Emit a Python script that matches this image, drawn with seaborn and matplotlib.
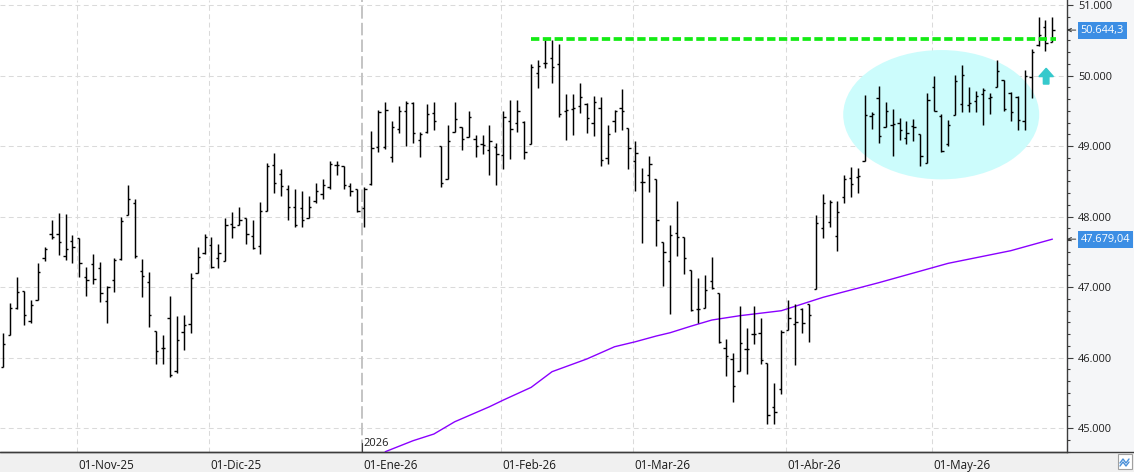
import numpy as np
import pandas as pd
import matplotlib
matplotlib.use("Agg")
import matplotlib.pyplot as plt
import seaborn as sns
from matplotlib.patches import Ellipse, Rectangle, FancyArrow
from matplotlib.lines import Line2D
from matplotlib.ticker import MultipleLocator

# ---------------- data ----------------
opens = [45872, 46321, 46704, 46950, 46520, 46818, 47418, 47759, 47759, 47442,
         47655, 47702, 47149, 47324, 47267, 46803, 47106, 47395, 48028, 48189,
         47234, 47078, 46382, 46141, 46567, 45810, 46359, 46482, 47205, 47489,
         47593, 47418, 47376, 47891, 47877, 47972, 47730, 47579, 48085, 48728,
         48601, 48388, 48128, 48114, 47986, 48213, 48326, 48421, 48728, 48710,
         48435, 48388, 48114, 48467, 48981, 48981, 48839, 49238, 49500, 49610,
         49086, 49200, 49467, 49000, 48539, 49205, 49267, 49134, 49100, 49024,
         48943, 48981, 48872, 49357, 49324, 49338, 49024, 50040, 50182, 50243,
         50159, 49491, 49524, 49571, 49600, 49324, 49538, 48824, 49357, 49538,
         49252, 48786, 48491, 48590, 48534, 47639, 47366, 47766, 47709, 47248,
         46692, 46706, 47092, 46918, 46141, 45986, 45811, 46117, 46329, 46353,
         45920, 45293, 45552, 46396, 46480, 46692, 46763, 46975, 47837, 47924,
         47730, 48278, 48548, 48562, 48784, 49432, 49683, 49272, 49305, 49328,
         49115, 49281, 49172, 48761, 49839, 49423, 49035, 49437, 49598, 49588,
         49636, 49740, 49683, 49834, 49943, 49754, 49697, 49352, 49974, 50433,
         50692, 50480]
highs = [46346, 46770, 47139, 46950, 46813, 47338, 47574, 47948, 48047, 48033,
         47735, 47702, 47281, 47466, 47357, 47016, 47418, 47995, 48445, 48246,
         47395, 47210, 46382, 46316, 46870, 46590, 46605, 47196, 47574, 47759,
         47707, 47607, 47972, 48057, 48142, 47976, 47957, 48203, 48766, 48899,
         48681, 48454, 48397, 48369, 48298, 48478, 48539, 48785, 48785, 48710,
         48482, 48397, 48412, 49215, 49514, 49624, 49357, 49572, 49643, 49619,
         49200, 49595, 49619, 49000, 49300, 49619, 49276, 49491, 49157, 49157,
         49300, 49038, 49491, 49657, 49657, 49348, 50163, 50220, 50504, 50504,
         50447, 49743, 49743, 49895, 49610, 49714, 49695, 49300, 49514, 49810,
         49252, 49076, 48689, 48859, 48534, 47639, 47884, 48223, 47709, 47248,
         47135, 47177, 47432, 46918, 46259, 46070, 46730, 46414, 46730, 46556,
         45920, 45632, 46386, 46810, 46763, 46706, 46763, 48025, 48322, 48240,
         48226, 48595, 48704, 48690, 49730, 49480, 49858, 49626, 49527, 49399,
         49352, 49385, 49172, 49754, 50000, 49447, 49366, 50014, 50142, 49839,
         49778, 49825, 49754, 50213, 49943, 49763, 49707, 50076, 50372, 50825,
         50787, 50825]
lows = [45872, 46321, 46695, 46463, 46491, 46818, 47371, 47688, 47451, 47385,
        47338, 47144, 46874, 47040, 46789, 46491, 46931, 47390, 48028, 47418,
        46860, 46439, 45909, 45909, 45730, 45786, 46108, 46349, 47201, 47475,
        47272, 47272, 47376, 47697, 47877, 47612, 47541, 47470, 48076, 48336,
        48284, 47953, 47858, 47853, 47981, 48194, 48246, 48397, 48591, 48388,
        48293, 48057, 47853, 48453, 48919, 48953, 48777, 49191, 49005, 49048,
        48848, 49191, 49229, 48420, 48539, 49195, 48943, 49134, 48848, 48886,
        48586, 48443, 48667, 48820, 49195, 48820, 49024, 49827, 50111, 49898,
        49416, 49081, 49157, 49467, 49191, 49148, 48719, 48743, 49205, 49229,
        48667, 48362, 47620, 48341, 47578, 47012, 46621, 47436, 47182, 46664,
        46485, 46706, 46975, 46202, 45741, 45373, 45811, 45764, 46188, 45915,
        45058, 45058, 45482, 46396, 45896, 46353, 46226, 46975, 47691, 47848,
        47507, 48193, 48278, 48335, 48784, 49243, 49045, 49272, 48865, 49092,
        49035, 49068, 48713, 48761, 49494, 48912, 49007, 49437, 49480, 49480,
        49480, 49305, 49447, 49834, 49494, 49352, 49234, 49234, 49685, 50423,
        50352, 50480]
closes = [46198, 46709, 46931, 46600, 46742, 47215, 47546, 47716, 47645, 47536,
          47574, 47347, 47097, 47111, 46922, 47002, 47380, 47934, 48255, 47442,
          47153, 46600, 46099, 46141, 45749, 46255, 46458, 47125, 47432, 47716,
          47291, 47489, 47886, 47858, 47957, 47745, 47555, 48076, 48714, 48473,
          48426, 48128, 47882, 47957, 48142, 48359, 48449, 48738, 48728, 48445,
          48369, 48076, 48393, 48967, 49476, 49514, 49267, 49500, 49605, 49181,
          49171, 49448, 49357, 48477, 49076, 49386, 49095, 49410, 49000, 49014,
          49071, 48881, 49410, 49238, 49500, 48910, 50116, 50135, 50182, 50116,
          49450, 49514, 49538, 49695, 49395, 49624, 48800, 49171, 49491, 49491,
          48967, 48895, 48491, 48741, 47950, 47497, 47742, 47709, 47417, 46673,
          46692, 46951, 46989, 46221, 46023, 45590, 46212, 46127, 46329, 45967,
          45185, 45223, 46362, 46565, 46504, 46485, 46598, 47907, 48190, 48209,
          48060, 48534, 48467, 48572, 49442, 49447, 49149, 49494, 49319, 49234,
          49186, 49272, 48865, 49659, 49503, 48926, 49305, 49920, 50014, 49603,
          49707, 49801, 49693, 50071, 49518, 49484, 49376, 50000, 50330, 50574,
          50456, 50644.3]

month_labels = ["01-Nov-25", "01-Dic-25", "01-Ene-26", "01-Feb-26",
                "01-Mar-26", "01-Abr-26", "01-May-26"]
month_first_bar = [11, 30, 52, 72, 91, 113, 134]
year_label = "2026"

ma_idx = [55, 59, 62, 65, 70, 72, 76, 79, 84, 88, 91, 94, 96, 99, 102, 106,
          112, 118, 126, 136, 145, 151]
ma_vals = [44664, 44820, 44915, 45089, 45302, 45397, 45577, 45799, 45979,
           46153, 46224, 46305, 46352, 46445, 46532, 46593, 46664, 46854,
           47061, 47336, 47515, 47679.04]

resistance = 50513
resistance_from, resistance_to = 76, 151.5
last_close = closes[-1]
last_ma = ma_vals[-1]

# ---------------- style ----------------
sns.set_style("white")
plt.rcParams["font.family"] = ["Open Sans", "DejaVu Sans"]
plt.rcParams["lines.scale_dashes"] = False

W, H = 1134, 472
fig = plt.figure(figsize=(W / 100, H / 100), dpi=100)
fig.patch.set_facecolor("white")
fig.patches.append(Rectangle((1067 / W, 20 / H), (W - 1067) / W, (H - 20) / H,
                             transform=fig.transFigure, facecolor="#f5f6f8",
                             edgecolor="none", zorder=-5))
fig.patches.append(Rectangle((0, 0), 1, 20 / H, transform=fig.transFigure,
                             facecolor="#f0f0f0", edgecolor="none", zorder=-5))

ax = fig.add_axes([0, 20 / H, 1067 / W, 452 / H])
ax.set_facecolor("white")

grid_kw = dict(color="#dadada", lw=0.75, linestyle=(0, (3.5, 2.5)), zorder=1)
for v in range(45000, 51001, 1000):
    ax.axhline(v, **grid_kw)
month_pos = [b - 0.35 for b in month_first_bar]
for lab, p in zip(month_labels, month_pos):
    if lab == "01-Ene-26":
        ax.axvline(p, color="#c4c4c4", lw=1.4, linestyle=(0, (9, 3)), zorder=1)
    else:
        ax.axvline(p, **grid_kw)

# highlight ellipse
ax.add_patch(Ellipse((135.0, 49444), width=28.2, height=1834,
                     facecolor="#ccfcfc", edgecolor="none", zorder=2))

# OHLC bars
x = np.arange(len(opens))
ax.vlines(x, lows, highs, color="black", lw=1.05, zorder=4)
ax.hlines(opens, x - 0.33, x, color="black", lw=1.0, zorder=4)
ax.hlines(closes, x, x + 0.33, color="black", lw=1.0, zorder=4)

# moving average
ma_df = pd.DataFrame({"idx": ma_idx, "ma": ma_vals})
sns.lineplot(data=ma_df, x="idx", y="ma", ax=ax, color="#8a00ff", lw=1.0,
             zorder=3, legend=False)

# resistance line
ax.hlines(resistance, resistance_from, resistance_to, color="#14eb14", lw=2.7,
          linestyles=(0, (6, 2.5)), zorder=5)

# cyan arrow
ax.add_patch(FancyArrow(150.1, 49879, 0, 223, width=0.8, head_width=2.1,
                        head_length=117, length_includes_head=True,
                        color="#35c9cc", zorder=5))

# axes
ax.set_xlim(-0.43, 153.1)
ax.set_ylim(44660, 51071)
ax.set_xlabel("")
ax.set_ylabel("")
for s in ["left", "top"]:
    ax.spines[s].set_visible(False)
for s in ["right", "bottom"]:
    ax.spines[s].set_color("#3c3c3c")
    ax.spines[s].set_linewidth(1.0)

ax.yaxis.tick_right()
yt = list(range(45000, 51001, 1000))
ax.set_yticks(yt)
ax.set_yticklabels([f"{v:,}".replace(",", ".") for v in yt])
ax.yaxis.set_minor_locator(MultipleLocator(1000 / 6))
ax.tick_params(axis="y", which="major", length=4.3, width=0.8, color="#3c3c3c",
               pad=3.5, labelsize=7.9, labelcolor="#1e1e1e", direction="out")
ax.tick_params(axis="y", which="minor", length=2.5, width=0.8, color="#3c3c3c",
               direction="out")

ax.set_xticks(month_pos)
ax.set_xticklabels([])
ax.tick_params(axis="x", which="major", length=7.5, width=0.8, color="#3c3c3c",
               direction="out")
xtr = ax.get_xaxis_transform()
for lab, p in zip(month_labels, month_pos):
    ax.annotate(lab, xy=(p, 0), xycoords=xtr, xytext=(1.2, -9.6),
                textcoords="offset points", ha="left", va="center",
                fontsize=8.4, color="#1a1a1a", annotation_clip=False)
jan = month_pos[month_labels.index("01-Ene-26")]
ax.plot([jan, jan], [0, 0.02], transform=xtr, color="#3c3c3c", lw=0.8,
        zorder=6, clip_on=False)
ax.annotate(year_label, xy=(jan, 0), xycoords=xtr, xytext=(1.2, 5.8),
            textcoords="offset points", ha="left", va="center", fontsize=8.0,
            color="#1e1e1e", annotation_clip=False)


def euro(v, dec):
    s = f"{v:,.{dec}f}"
    return s.replace(",", "X").replace(".", ",").replace("X", ".")


ytr = ax.get_yaxis_transform()
for val, dec in [(last_close, 1), (last_ma, 2)]:
    ax.annotate(euro(val, dec), xy=(1, val), xycoords=ytr, xytext=(9.8, 0),
                textcoords="offset points", ha="left", va="center",
                color="white", fontsize=7.9,
                bbox=dict(boxstyle="square,pad=0.28", fc="#3c8ee4", ec="none"),
                annotation_clip=False, zorder=7)
    ax.annotate("", xy=(1, val), xycoords=ytr, xytext=(6.3, 0),
                textcoords="offset points",
                arrowprops=dict(arrowstyle="->", color="#333333", lw=0.7,
                                shrinkA=0, shrinkB=0, mutation_scale=6),
                annotation_clip=False, zorder=7)

# bottom line across the figure and small corner icon
fig.add_artist(Line2D([0, 1], [20 / H, 20 / H], transform=fig.transFigure,
                      color="#3c3c3c", lw=1.0))
fig.patches.append(Rectangle((1118 / W, 3 / H), 14 / W, 15 / H,
                             transform=fig.transFigure, facecolor="white",
                             edgecolor="#a0a0a0", lw=0.8, zorder=5))
for base in (6, 9):
    zz = Line2D(np.array([1120, 1123, 1126, 1129]) / W,
                np.array([base, base + 4, base, base + 4]) / H,
                transform=fig.transFigure, color="#4a90d9", lw=1.0)
    zz.set_zorder(6)
    fig.add_artist(zz)

fig.savefig("out.png", dpi=100)
